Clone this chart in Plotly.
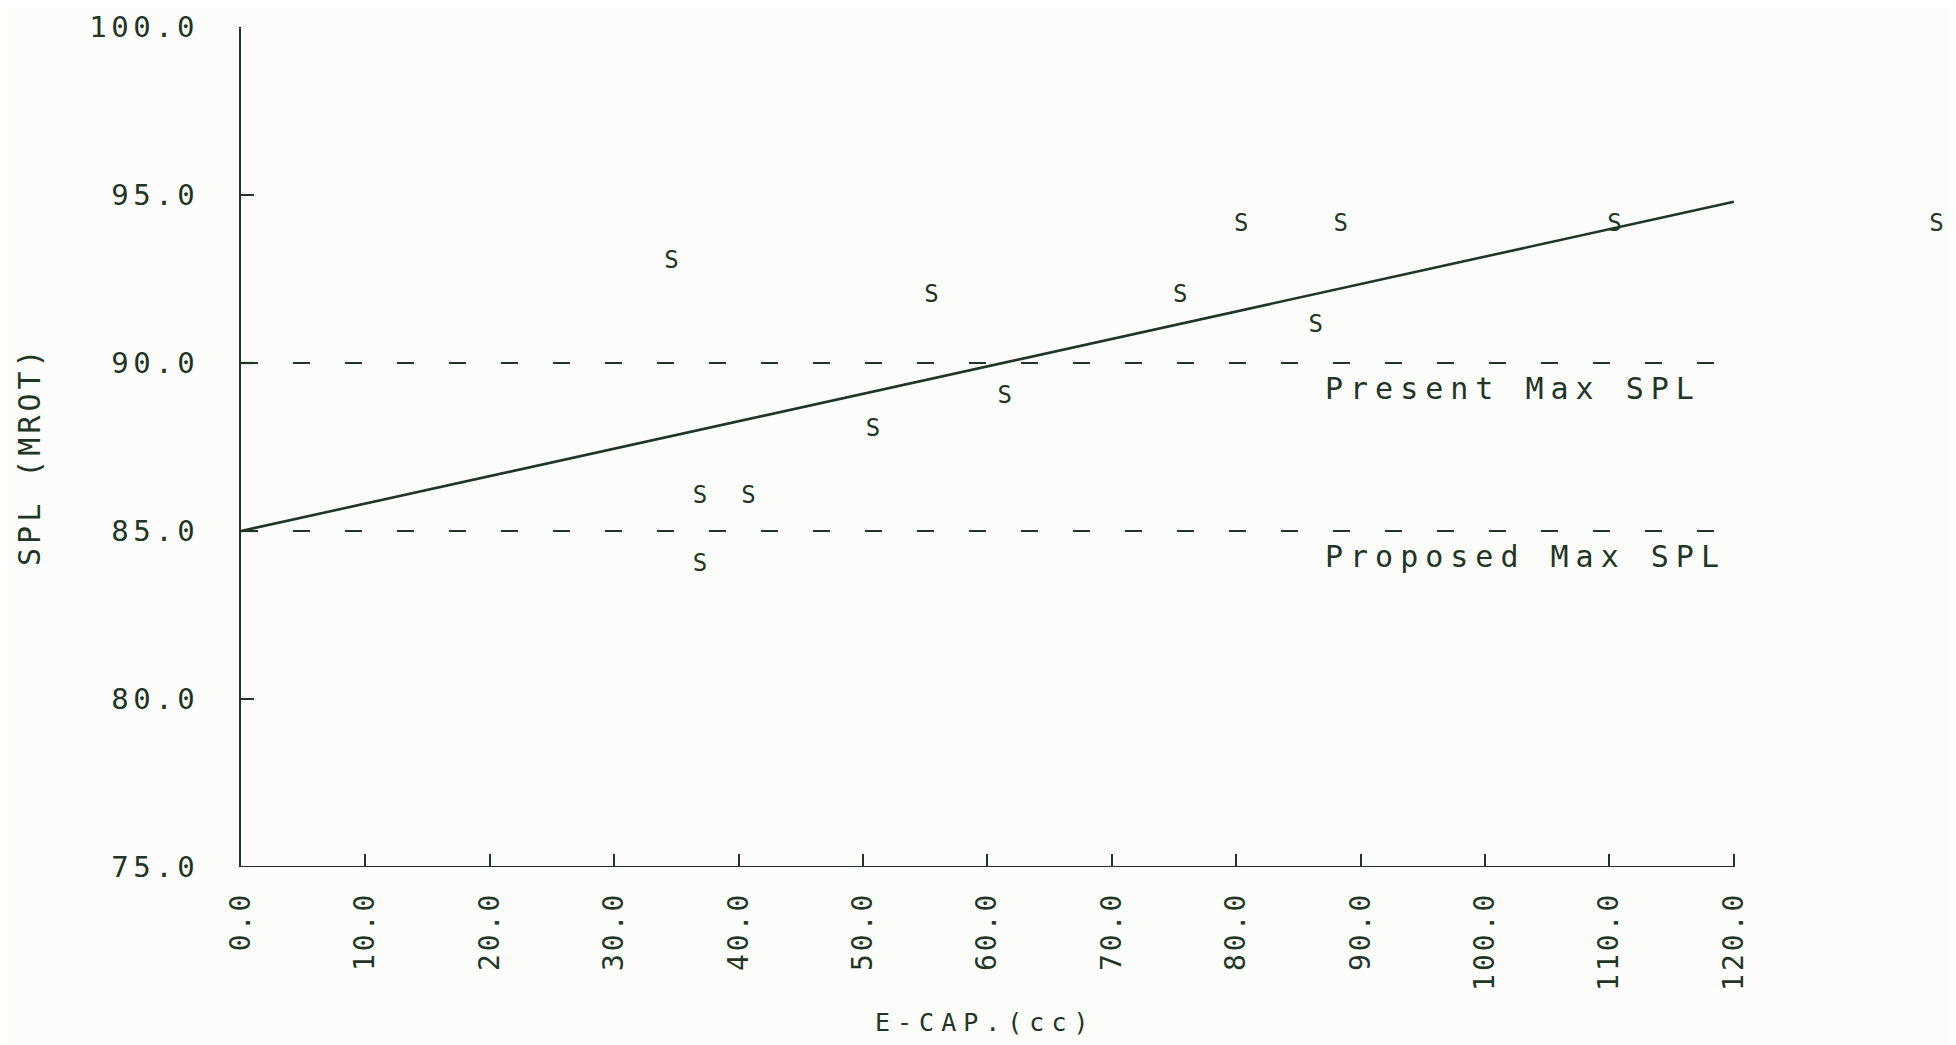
import plotly.graph_objects as go

# ---- data ----
ecap = [34.6, 36.9, 40.8, 36.9, 50.8, 55.5, 61.4, 75.5, 80.4, 88.4, 86.4, 110.4, 136.3]
spl = [93.0, 86.0, 86.0, 84.0, 88.0, 92.0, 89.0, 92.0, 94.1, 94.1, 91.1, 94.1, 94.1]
point_symbol = "S"

fit_x = [0.0, 120.0]
fit_y = [85.0, 94.8]

limit_names = ["Present Max SPL", "Proposed Max SPL"]
limit_values = [90.0, 85.0]
limit_x = [0.0, 120.0]

x_ticks = [0, 10, 20, 30, 40, 50, 60, 70, 80, 90, 100, 110, 120]
x_tick_labels = ["0.0", "10.0", "20.0", "30.0", "40.0", "50.0", "60.0",
                 "70.0", "80.0", "90.0", "100.0", "110.0", "120.0"]
y_ticks = [75, 80, 85, 90, 95, 100]
y_tick_labels = ["75.0", "80.0", "85.0", "90.0", "95.0", "100.0"]

x_title = "E-CAP.(cc)"
y_title = "SPL (MROT)"

INK = "#1f3526"
BG = "#fcfcfa"
FONT = "DejaVu Sans Mono"

OFF = 8  # page body margin
W, H = 1956 - OFF, 1045 - OFF
ml, mr, mt, mb = 241 - OFF, 2, 25 - OFF, 178
pw, ph = W - ml - mr, H - mt - mb


def spaced(s, px):
    return f'<span style="letter-spacing:{px}px">{s}</span>'


def px_x(X):  # window pixel -> paper x
    return (X - OFF - ml) / pw


def px_y(Y):  # window pixel -> paper y
    return (H - mb - (Y - OFF)) / ph


fig = go.Figure()

# regression line
fig.add_trace(go.Scatter(x=fit_x, y=fit_y, mode="lines",
                         line=dict(color=INK, width=2.6),
                         hoverinfo="skip", showlegend=False))

# limit dashed lines
for v in limit_values:
    fig.add_trace(go.Scatter(x=limit_x, y=[v, v], mode="lines",
                             line=dict(color=INK, width=2.2, dash="17px,35px"),
                             hoverinfo="skip", showlegend=False))

# data points as 'S'
fig.add_trace(go.Scatter(x=ecap, y=spl, mode="text",
                         text=[point_symbol] * len(ecap),
                         textposition="middle center",
                         textfont=dict(family=FONT, size=24, color=INK),
                         cliponaxis=False, showlegend=False))

# x-axis baseline (only up to 120)
fig.add_shape(type="line", xref="x", yref="y", x0=x_ticks[0], x1=x_ticks[-1],
              y0=y_ticks[0], y1=y_ticks[0], line=dict(color=INK, width=2.2))

# limit labels
for name, v in zip(limit_names, limit_values):
    fig.add_annotation(x=87, y=v, xref="x", yref="y", text=spaced(name, 7),
                       showarrow=False, xanchor="left", yanchor="middle",
                       yshift=-25,
                       font=dict(family=FONT, size=30, color=INK))

# axis titles
fig.add_annotation(x=px_x(873), y=px_y(1023), xref="paper", yref="paper",
                   text=spaced(x_title, 7), showarrow=False,
                   xanchor="left", yanchor="middle",
                   font=dict(family=FONT, size=25, color=INK))
fig.add_annotation(x=px_x(30), y=px_y(455), xref="paper", yref="paper",
                   text=spaced(y_title, 4), showarrow=False, textangle=-90,
                   xanchor="center", yanchor="middle",
                   font=dict(family=FONT, size=30, color=INK))

fig.update_layout(
    width=W, height=H,
    margin=dict(l=ml, r=mr, t=mt, b=mb),
    paper_bgcolor=BG, plot_bgcolor=BG,
    showlegend=False,
    xaxis=dict(range=[0, pw / 12.44], tickmode="array", tickvals=x_ticks,
               ticktext=[spaced(t, 3) for t in x_tick_labels],
               tickangle=-90, ticks="inside", ticklen=13, tickwidth=2.2,
               tickcolor=INK, showline=False, showgrid=False, zeroline=False,
               ticklabelstandoff=18,
               tickfont=dict(family=FONT, size=28, color=INK)),
    yaxis=dict(range=[75, 100], tickmode="array", tickvals=y_ticks,
               ticktext=[spaced(t, 4.5) for t in y_tick_labels],
               ticks="inside", ticklen=13, tickwidth=2.2, tickcolor=INK,
               showline=True, linecolor=INK, linewidth=2.2,
               showgrid=False, zeroline=False, ticklabelstandoff=34,
               tickfont=dict(family=FONT, size=29, color=INK)),
)

fig.write_html("out.html")
